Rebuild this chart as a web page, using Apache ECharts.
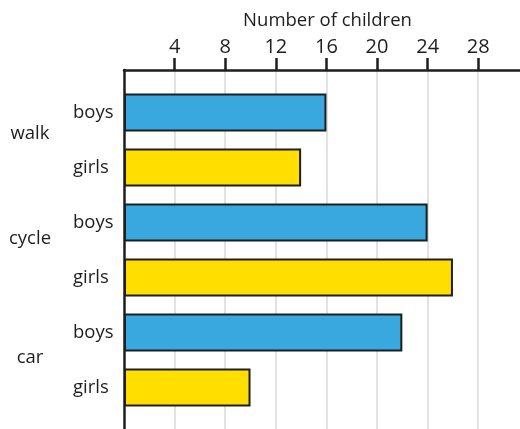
<!DOCTYPE html>
<html>
<head>
<meta charset="utf-8">
<script src="https://cdn.jsdelivr.net/npm/echarts@6/dist/echarts.min.js"></script>
<style>
    html, body { margin: 0; padding: 0; background: #fff; }
    #main { width: 520px; height: 429px; }
</style>
</head>
<body>
<div id="main"></div>
<script>
// travel mode of the children
var modes = ['walk', 'cycle', 'car'];
var groups = ['boys', 'girls'];
var boys = [16, 24, 22];
var girls = [14, 26, 10];
var xTicks = [4, 8, 12, 16, 20, 24, 28];

var BLUE = '#38a8df', YELLOW = '#ffde00', INK = '#1e1e1e';
var FONT = 'Open Sans';

function build() {
    var myChart = echarts.init(document.getElementById('main'), null, {renderer: 'canvas'});

    // one row per bar: boys then girls for each mode
    var rows = [], bars = [];
    for (var i = 0; i < modes.length; i++) {
        rows.push(groups[0], groups[1]);
        bars.push({value: boys[i], itemStyle: {color: BLUE}});
        bars.push({value: girls[i], itemStyle: {color: YELLOW}});
    }

    // small nudges so the mode labels sit where they are in the picture
    var modeRich = {
        m0: {padding: [0, 0, 12, 0]},
        m1: {padding: [0, 0, 22, 0]},
        m2: {padding: [0, 0, 5, 0]}
    };

    var xMax = 31.3;

    var option = {
        animation: false,
        grid: [
            {left: 124, right: 0, top: 70, bottom: 0, outerBoundsMode: 'none', containLabel: false},
            {left: 124, right: 0, top: 85, height: 330, outerBoundsMode: 'none', containLabel: false}
        ],
        xAxis: [{
            gridIndex: 0,
            type: 'value',
            position: 'top',
            min: 0,
            max: xMax,
            name: 'Number of children',
            nameLocation: 'middle',
            nameGap: 40,
            nameTextStyle: {fontFamily: FONT, fontSize: 18.5, color: INK, padding: [0, 0, 0, 11]},
            axisLine: {show: true, onZero: false, lineStyle: {color: INK, width: 2.5}},
            axisTick: {show: true, inside: false, length: 12, customValues: xTicks,
                lineStyle: {color: INK, width: 2.5}},
            axisLabel: {show: true, customValues: xTicks, margin: 13,
                fontFamily: FONT, fontSize: 20, color: INK},
            splitLine: {show: true, lineStyle: {color: '#d9d9d9', width: 1.5}}
        }, {
            gridIndex: 1,
            type: 'value',
            min: 0,
            max: xMax,
            show: false
        }],
        yAxis: [{
            gridIndex: 0,
            type: 'value',
            min: 0,
            max: 1,
            axisLine: {show: true, onZero: false, lineStyle: {color: INK, width: 2.5}},
            axisTick: {show: false},
            axisLabel: {show: false},
            splitLine: {show: false}
        }, {
            gridIndex: 1,
            type: 'category',
            position: 'left',
            inverse: true,
            data: rows,
            axisLine: {show: false},
            axisTick: {show: false},
            axisLabel: {align: 'left', margin: 51, fontFamily: FONT, fontSize: 18.5, color: INK}
        }, {
            gridIndex: 1,
            type: 'category',
            position: 'left',
            offset: 0,
            inverse: true,
            data: modes,
            axisLine: {show: false},
            axisTick: {show: false},
            axisLabel: {
                align: 'center', margin: 94, fontFamily: FONT, fontSize: 18.5, color: INK,
                rich: modeRich,
                formatter: function (v, i) {
                    return '{m' + i + '|' + v + '}';
                }
            }
        }],
        series: [{
            type: 'bar',
            xAxisIndex: 1,
            yAxisIndex: 1,
            data: bars,
            barWidth: 38,
            itemStyle: {borderColor: INK, borderWidth: 2}
        }]
    };
    myChart.setOption(option);
}
build();
</script>
</body>
</html>
